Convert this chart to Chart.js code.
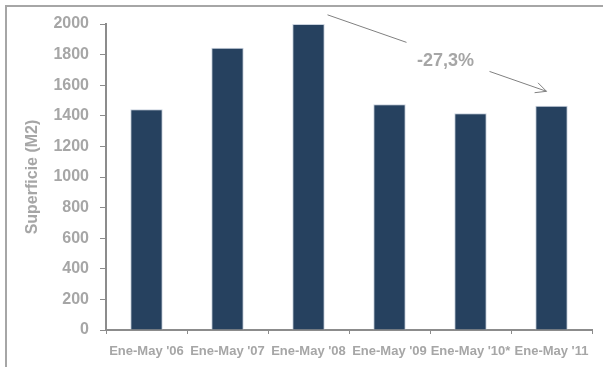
<!DOCTYPE html>
<html lang="es">
<head>
    <meta charset="UTF-8">
    <title>Superficie Ene-May</title>
    <script src="https://cdn.jsdelivr.net/npm/chart.js"></script>
    <style>
        html, body { margin: 0; padding: 0; background: #fff; }
        #wrap { position: relative; width: 603px; height: 367px; }
        #frame { position: absolute; left: 5px; top: 5px; right: 0; bottom: 0;
                 border-top: 2px solid #a6a6a6; border-left: 2px solid #a6a6a6; }
    </style>
</head>
<body>
    <div id="wrap">
        <div id="frame"></div>
        <canvas id="chart" width="603" height="367"></canvas>
    </div>

    <script>
        const categories = ["Ene-May '06", "Ene-May '07", "Ene-May '08", "Ene-May '09", "Ene-May '10*", "Ene-May '11"];
        const superficie = [1442, 1845, 2000, 1475, 1416, 1466];
        const yTicks = [0, 200, 400, 600, 800, 1000, 1200, 1400, 1600, 1800, 2000];
        const changeLabel = '-27,3%';

        const grey = '#a6a6a6';
        const axisGrey = '#8c8c8c';
        const fontFamily = '"Liberation Sans", Arial, sans-serif';

        // flecha con el % de variación entre 2008 y 2011
        const arrowPlugin = {
            id: 'arrowNote',
            afterDraw(chart) {
                const ctx = chart.ctx;
                const x = chart.scales.x, y = chart.scales.y;
                const x1 = x.getPixelForValue(2) + 19, y1 = y.getPixelForValue(2060);
                const x2 = x.getPixelForValue(3) + 17, y2 = y.getPixelForValue(1880);
                const tx = x.getPixelForValue(4) - 25, ty = y.getPixelForValue(1760);
                const x3 = x.getPixelForValue(4) + 19, y3 = y.getPixelForValue(1690);
                const x4 = x.getPixelForValue(5) - 5, y4 = y.getPixelForValue(1560);
                ctx.save();
                ctx.strokeStyle = '#808080';
                ctx.lineWidth = 1;
                ctx.beginPath();
                ctx.moveTo(x1, y1); ctx.lineTo(x2, y2);
                ctx.moveTo(x3, y3); ctx.lineTo(x4, y4);
                const a = Math.atan2(y4 - y3, x4 - x3);
                ctx.moveTo(x4 - 12 * Math.cos(a - 0.45), y4 - 12 * Math.sin(a - 0.45));
                ctx.lineTo(x4, y4);
                ctx.lineTo(x4 - 12 * Math.cos(a + 0.45), y4 - 12 * Math.sin(a + 0.45));
                ctx.stroke();
                ctx.fillStyle = grey;
                ctx.font = 'bold 18px ' + fontFamily;
                ctx.textAlign = 'center';
                ctx.textBaseline = 'middle';
                ctx.fillText(changeLabel, tx, ty);
                ctx.restore();
            }
        };

        new Chart(document.getElementById('chart'), {
            type: 'bar',
            data: {
                labels: categories,
                datasets: [{
                    data: superficie,
                    backgroundColor: '#26415f',
                    borderColor: '#c9d2de',
                    borderWidth: 1,
                    barPercentage: 0.8,
                    categoryPercentage: 0.5
                }]
            },
            options: {
                responsive: false,
                animation: false,
                layout: { padding: { top: 24, right: 11, left: 0, bottom: 0 } },
                plugins: { legend: { display: false }, tooltip: { enabled: false } },
                scales: {
                    x: {
                        afterFit(s) { s.height = 37; },
                        grid: { drawOnChartArea: false, drawTicks: true, tickLength: 4, color: axisGrey },
                        border: { color: axisGrey, width: 2 },
                        ticks: {
                            color: grey, padding: 10, maxRotation: 0, autoSkip: false,
                            font: { family: fontFamily, size: 13, weight: 'bold' }
                        }
                    },
                    y: {
                        min: 0, max: 2000,
                        afterBuildTicks(s) { s.ticks = yTicks.map(v => ({ value: v })); },
                        afterFit(s) { s.width = 106; },
                        grid: { drawOnChartArea: false, drawTicks: true, tickLength: 6, color: axisGrey },
                        border: { color: axisGrey, width: 2 },
                        ticks: {
                            color: grey, padding: 11,
                            callback: v => String(v),
                            font: { family: fontFamily, size: 16, weight: 'bold' }
                        },
                        title: {
                            display: true, text: 'Superficie (M2)', color: grey,
                            padding: { top: 23, bottom: 0 },
                            font: { family: fontFamily, size: 16, weight: 'bold' }
                        }
                    }
                }
            },
            plugins: [arrowPlugin]
        });
    </script>
</body>
</html>
